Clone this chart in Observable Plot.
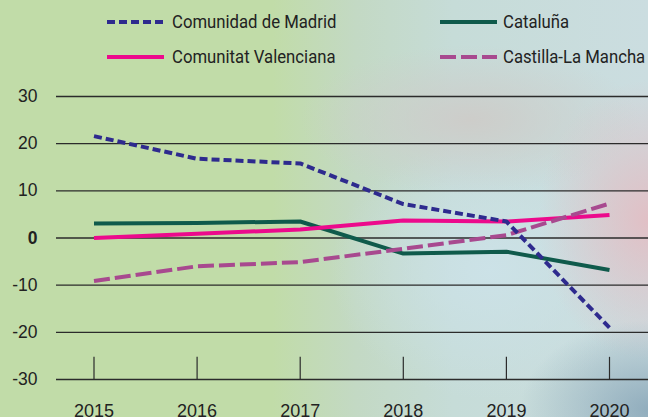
<!DOCTYPE html>
<html>
<head>
<meta charset="utf-8">
<script src="https://cdn.jsdelivr.net/npm/d3@7"></script>
<script src="https://cdn.jsdelivr.net/npm/@observablehq/plot@0.6"></script>
<style>
  html, body { margin: 0; padding: 0; }
  #wrap {
    position: relative; width: 648px; height: 417px; overflow: hidden;
    background:
      radial-gradient(ellipse 130px 90px at 650px 410px, rgba(105,140,165,0.6), rgba(105,140,165,0) 100%),
      radial-gradient(ellipse 110px 140px at 648px 220px, rgba(226,190,196,0.95), rgba(226,190,196,0) 100%),
      radial-gradient(ellipse 170px 75px at 470px 120px, rgba(206,203,200,0.9), rgba(206,203,200,0) 100%),
      radial-gradient(ellipse 160px 130px at 490px 270px, rgba(204,226,232,0.95), rgba(204,226,232,0) 100%),
      linear-gradient(to right, #c1dca8 0%, #c1dca8 42%, #c3d9c4 55%, #c6dcd8 70%, #cbdde0 100%);
  }
  #legend {
    position: absolute; left: 0; top: 0; width: 648px; height: 75px;
    font-family: Roboto, "Liberation Sans", sans-serif;
    font-size: 19px; color: #222;
  }
  .sw { position: absolute; }
  .lt { position: absolute; white-space: nowrap; line-height: 20px; transform: scaleX(0.88); transform-origin: left center; }
  #chart { position: absolute; left: 0; top: 75px; }
</style>
</head>
<body>
<div id="wrap">
  <div id="legend"></div>
  <div id="chart"></div>
</div>
<script>
const years = [2015, 2016, 2017, 2018, 2019, 2020];
const madrid = [21.6, 16.8, 15.8, 7.2, 3.5, -19.0];
const cataluna = [3.1, 3.2, 3.5, -3.3, -2.9, -6.8];
const valenciana = [0.0, 0.9, 1.8, 3.7, 3.5, 4.9];
const castilla = [-9.1, -6.0, -5.1, -2.3, 0.6, 7.3];
const yTicks = [-30, -20, -10, 0, 10, 20, 30];

const seriesNames = ["Comunidad de Madrid", "Cataluña", "Comunitat Valenciana", "Castilla-La Mancha"];
const seriesColors = ["#2e2a8e", "#0f5a4b", "#ec0a8c", "#a8498f"];
const seriesDash = ["8,4", null, null, "16,5"];

const seriesValues = [madrid, cataluna, valenciana, castilla];
const rows = (vals) => years.map((y, i) => ({year: y, value: vals[i]}));

// Legend (HTML, above the SVG)
const legendPos = [
  {sx: 107, tx: 172, cy: 21.5}, {sx: 440, tx: 503, cy: 21.5},
  {sx: 107, tx: 172, cy: 56.5}, {sx: 440, tx: 503, cy: 56.5}
];
const legend = document.getElementById("legend");
[0, 1, 2, 3].forEach((k, j) => {
  const p = legendPos[j];
  const dash = seriesDash[k] ? `stroke-dasharray="${seriesDash[k]}"` : "";
  const sw = document.createElement("div");
  sw.className = "sw";
  sw.style.left = p.sx + "px";
  sw.style.top = (p.cy - 3) + "px";
  sw.innerHTML = `<svg width="57" height="6" style="display:block"><line x1="0" x2="57" y1="3" y2="3" stroke="${seriesColors[k]}" stroke-width="3.8" ${dash}/></svg>`;
  legend.appendChild(sw);
  const t = document.createElement("div");
  t.className = "lt";
  t.style.left = p.tx + "px";
  t.style.top = (p.cy - 10) + "px";
  t.textContent = seriesNames[k];
  legend.appendChild(t);
});

const drawOrder = [1, 2, 3, 0];
const numFont = "Liberation Sans, Arial, sans-serif";
const x0 = 2015 - 37.5 / 103.1, x1 = 2020 + 39 / 103.1;

const chart = Plot.plot({
  width: 648,
  height: 342,
  marginLeft: 56,
  marginRight: 0,
  marginTop: 21,
  marginBottom: 38,
  style: {background: "transparent", fontFamily: numFont, fontSize: "18px", color: "#222", overflow: "visible"},
  x: {domain: [x0, x1], axis: null, label: null},
  y: {domain: [-30, 30], axis: null, label: null},
  marks: [
    Plot.ruleY(yTicks, {x1: x0, x2: x1, stroke: "#2b2b2b", strokeWidth: 1.4}),
    Plot.ruleX(years, {y1: -30, y2: -25.3, stroke: "#2b2b2b", strokeWidth: 1.2}),
    Plot.axisX(years, {tickSize: 0, tickPadding: 25, tickFormat: d => String(d), fill: "#222", fontSize: 18, label: null}),
    Plot.axisY(yTicks.filter(d => d !== 0), {tickSize: 0, tickPadding: 19, tickFormat: d => String(d), fill: "#222", fontSize: 17.5, label: null}),
    Plot.axisY([0], {tickSize: 0, tickPadding: 19, tickFormat: d => String(d), fill: "#222", fontSize: 17.5, fontWeight: "bold", label: null}),
    ...drawOrder.map(k => Plot.line(rows(seriesValues[k]), {
      x: "year", y: "value",
      stroke: seriesColors[k], strokeWidth: 4,
      strokeDasharray: seriesDash[k] || undefined,
      strokeLinejoin: "round", strokeLinecap: "butt"
    }))
  ]
});
document.getElementById("chart").appendChild(chart);
</script>
</body>
</html>
